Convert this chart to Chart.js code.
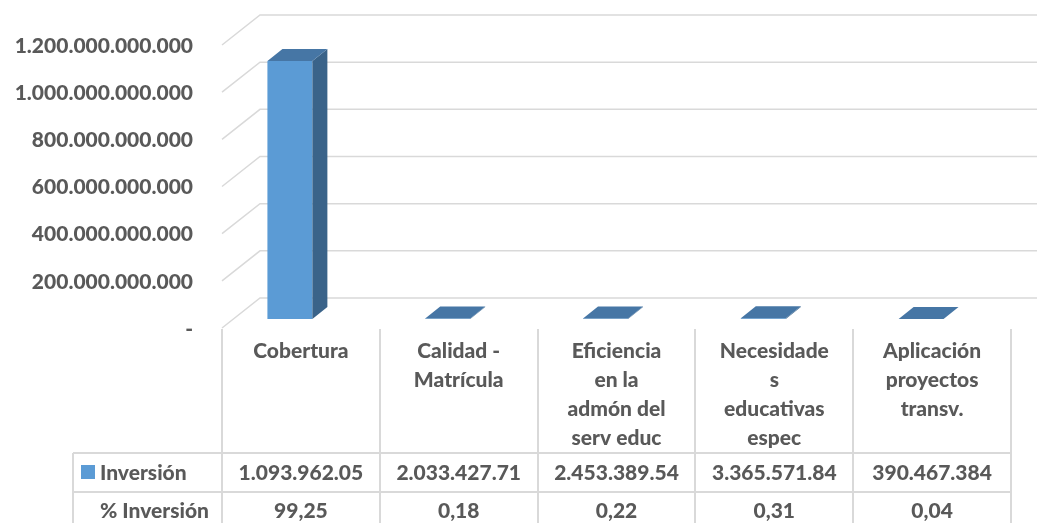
<!DOCTYPE html>
<html lang="es">
<head>
    <meta charset="UTF-8">
    <title>Inversión por línea</title>
    <script src="https://cdn.jsdelivr.net/npm/chart.js"></script>
    <style>
        html, body {
            margin: 0;
            padding: 0;
            background-color: white;
        }
        .chart-container {
            position: relative;
            width: 1037px;
            height: 523px;
        }
    </style>
</head>
<body>
    <div class="chart-container">
        <canvas id="inversionChart"></canvas>
    </div>
    <script>
        // datos
        const categorias = [
            ['Cobertura'],
            ['Calidad -', 'Matrícula'],
            ['Eficiencia', 'en la', 'admón del', 'serv educ'],
            ['Necesidade', 's', 'educativas', 'espec'],
            ['Aplicación', 'proyectos', 'transv.']
        ];
        const inversion = [1093962050000, 2033427710, 2453389540, 3365571840, 390467384];
        const porcInversion = [99.25, 0.18, 0.22, 0.31, 0.04];
        const filas = ['Inversión', '% Inversión'];
        const yMax = 1200000000000;
        const yPaso = 200000000000;

        const fuente = 'Lato, "Open Sans", sans-serif';
        const peso = '900';
        const gris = '#595959';
        const lineaGris = '#d9d9d9';
        const azul = '#5b9bd5';
        const azulTapa = '#4676a5';
        const azulLado = '#3a6389';
        const prof = { dx: 15, dy: -12 };   // profundidad de la barra
        const corrCol = 11;                 // desplazamiento barra -> columna de la tabla

        function puntos(n) {
            return Math.round(n).toString().replace(/\B(?=(\d{3})+(?!\d))/g, '.');
        }

        const plugin3d = {
            id: 'plugin3d',
            beforeDatasetsDraw(chart) {
                const ctx = chart.ctx;
                const y = chart.scales.y;
                ctx.save();
                ctx.strokeStyle = lineaGris;
                ctx.lineWidth = 1.5;
                for (let v = 0; v <= yMax; v += yPaso) {
                    const py = y.getPixelForValue(v);
                    ctx.beginPath();
                    ctx.moveTo(chart.chartArea.left + corrCol, py + 9);
                    ctx.lineTo(chart.chartArea.left + corrCol + 38, py - 21);
                    ctx.lineTo(chart.width, py - 21);
                    ctx.stroke();
                }
                ctx.restore();
            },
            afterDatasetsDraw(chart) {
                const ctx = chart.ctx;
                const meta = chart.getDatasetMeta(0);
                ctx.save();
                meta.data.forEach(function(bar) {
                    const l = bar.x - bar.width / 2;
                    const r = bar.x + bar.width / 2;
                    // lado
                    ctx.fillStyle = azulLado;
                    ctx.beginPath();
                    ctx.moveTo(r, bar.y);
                    ctx.lineTo(r + prof.dx, bar.y + prof.dy);
                    ctx.lineTo(r + prof.dx, bar.base + prof.dy);
                    ctx.lineTo(r, bar.base);
                    ctx.closePath();
                    ctx.fill();
                    // tapa
                    ctx.fillStyle = azulTapa;
                    ctx.beginPath();
                    ctx.moveTo(l, bar.y);
                    ctx.lineTo(r, bar.y);
                    ctx.lineTo(r + prof.dx, bar.y + prof.dy);
                    ctx.lineTo(l + prof.dx, bar.y + prof.dy);
                    ctx.closePath();
                    ctx.fill();
                });
                ctx.restore();
            },
            afterDraw(chart) {
                // tabla de datos
                const ctx = chart.ctx;
                const area = chart.chartArea;
                const n = categorias.length;
                const ancho = (area.right - area.left) / n;
                const x0 = area.left + corrCol;
                const xFin = x0 + n * ancho;
                const yCat = area.bottom + 10;
                const yFila1 = 453;
                const yFila2 = 492;
                const yFin = chart.height + 20;
                const xCab = 73;
                ctx.save();
                ctx.strokeStyle = lineaGris;
                ctx.lineWidth = 2;
                ctx.beginPath();
                for (let i = 0; i <= n; i++) {
                    const px = Math.round(x0 + i * ancho);
                    ctx.moveTo(px, yCat);
                    ctx.lineTo(px, yFin);
                }
                ctx.moveTo(xCab, yFila1);
                ctx.lineTo(xCab, yFin);
                ctx.moveTo(xCab, yFila1);
                ctx.lineTo(xFin, yFila1);
                ctx.moveTo(xCab, yFila2);
                ctx.lineTo(xFin, yFila2);
                ctx.stroke();

                ctx.fillStyle = azul;
                ctx.fillRect(81, 465, 14, 14);

                ctx.fillStyle = gris;
                ctx.font = peso + ' 21px ' + fuente;
                ctx.textBaseline = 'middle';
                ctx.textAlign = 'left';
                ctx.fillText(filas[0], 100, 473);
                ctx.fillText(filas[1], 100, 511);
                ctx.textAlign = 'center';
                for (let i = 0; i < n; i++) {
                    const cx = x0 + (i + 0.5) * ancho;
                    ctx.fillText(puntos(inversion[i]).slice(0, 12), cx, 473);
                    ctx.fillText(porcInversion[i].toFixed(2).replace('.', ','), cx, 511);
                }
                ctx.restore();
            }
        };

        const ctx = document.getElementById('inversionChart').getContext('2d');
        const inversionChart = new Chart(ctx, {
            type: 'bar',
            data: {
                labels: categorias,
                datasets: [{
                    label: filas[0],
                    data: inversion,
                    backgroundColor: azul,
                    borderWidth: 0,
                    barPercentage: 0.285,
                    categoryPercentage: 1
                }]
            },
            options: {
                responsive: true,
                maintainAspectRatio: false,
                animation: false,
                events: [],
                layout: {
                    padding: { top: 36, right: 37, left: 0, bottom: 0 }
                },
                plugins: {
                    legend: { display: false },
                    tooltip: { enabled: false }
                },
                scales: {
                    x: {
                        grid: { display: false, drawTicks: false },
                        border: { display: false },
                        afterFit: function(s) { s.height = 204; },
                        ticks: {
                            color: gris,
                            font: { family: fuente, size: 21, weight: peso, lineHeight: 1.38 },
                            padding: 18,
                            labelOffset: corrCol,
                            autoSkip: false,
                            maxRotation: 0,
                            minRotation: 0
                        }
                    },
                    y: {
                        min: 0,
                        max: yMax,
                        grid: { display: false, drawTicks: false },
                        border: { display: false },
                        afterFit: function(s) { s.width = 211; },
                        ticks: {
                            stepSize: yPaso,
                            color: gris,
                            font: { family: fuente, size: 21, weight: peso },
                            padding: 18,
                            labelOffset: 10,
                            callback: function(v) { return v === 0 ? '-' : puntos(v); }
                        }
                    }
                }
            },
            plugins: [plugin3d]
        });
    </script>
</body>
</html>
